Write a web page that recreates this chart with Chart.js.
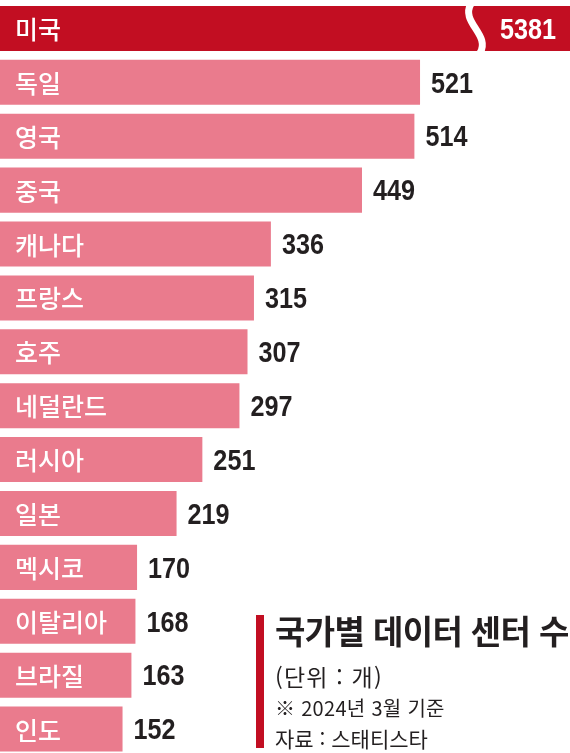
<!DOCTYPE html>
<html lang="ko">
<head>
<meta charset="utf-8">
<script src="https://cdn.jsdelivr.net/npm/chart.js@4.4.1/dist/chart.umd.min.js"></script>
<style>
    html, body { margin: 0; padding: 0; background: #fff; overflow: hidden; }
    #wrap { position: relative; width: 570px; height: 753px; overflow: hidden; }
    #chart { position: absolute; left: 0; top: 0; }
    .bar { position: absolute; left: 256px; top: 615px; width: 8px; height: 133px; background: #c20e22; }
    .ln { position: absolute; left: 275px; color: #231f20; font-family: "Noto Sans CJK KR", sans-serif; white-space: nowrap; }
    .t { top: 612px; font-size: 33px; line-height: 36px; font-weight: 700; letter-spacing: -0.6px; }
    .s { top: 663px; font-size: 23px; line-height: 26px; letter-spacing: 1.2px; }
    .d { top: 696px; font-size: 20px; line-height: 24px; letter-spacing: 0.3px; }
    .r { top: 726px; font-size: 21px; line-height: 24px; }
</style>
</head>
<body>
<div id="wrap">
    <canvas id="chart" width="570" height="756"></canvas>
    <div class="bar"></div>
    <div class="ln t">국가별 데이터 센터 수</div>
    <div class="ln s">(단위 : 개)</div>
    <div class="ln d">※ 2024년 3월 기준</div>
    <div class="ln r">자료 : 스태티스타</div>
</div>
<script>
// 국가별 데이터 센터 수 (2024년 3월)
const countries = ['미국', '독일', '영국', '중국', '캐나다', '프랑스', '호주', '네덜란드', '러시아', '일본', '멕시코', '이탈리아', '브라질', '인도'];
const centers = [5381, 521, 514, 449, 336, 315, 307, 297, 251, 219, 170, 168, 163, 152];

const DARK = '#c20e22', PINK = '#ea7b8d';

// 좁은 굵은 숫자 (condensed 글꼴 대신 가로 축소)
function drawNum(ctx, text, x, y, align) {
    const sx = 0.84;
    ctx.save();
    ctx.font = 'bold 30px "Liberation Sans", Arial, sans-serif';
    ctx.textBaseline = 'middle';
    ctx.textAlign = align;
    ctx.translate(x, y);
    ctx.scale(sx, 1);
    ctx.fillText(text, 0, 0);
    ctx.restore();
}

// 잘린 막대(미국) 물결 표시 + 라벨
const labelsPlugin = {
    id: 'labels',
    afterDatasetsDraw(chart) {
        const ctx = chart.ctx;
        const meta = chart.getDatasetMeta(0);
        const area = chart.chartArea;
        ctx.save();
        meta.data.forEach((bar, i) => {
            const top = bar.y - bar.height / 2, bottom = bar.y + bar.height / 2;
            const clipped = bar.x > area.right;

            if (clipped) {
                ctx.beginPath();
                ctx.moveTo(471, top - 2);
                ctx.bezierCurveTo(460, top + 16, 491, bottom - 16, 480, bottom + 2);
                ctx.strokeStyle = '#fff';
                ctx.lineWidth = 7;
                ctx.stroke();
            }

            ctx.textBaseline = 'middle';
            ctx.fillStyle = '#fff';
            ctx.textAlign = 'left';
            ctx.font = '500 25px "Noto Sans CJK KR", sans-serif';
            ctx.fillText(countries[i], 15, bar.y + 1);

            if (clipped) {
                ctx.fillStyle = '#fff';
                drawNum(ctx, String(centers[i]), area.right - 14, bar.y + 2, 'right');
            } else {
                ctx.fillStyle = '#231f20';
                drawNum(ctx, String(centers[i]), bar.x + 11, bar.y + 2, 'left');
            }
        });
        ctx.restore();
    }
};

new Chart(document.getElementById('chart'), {
    type: 'bar',
    data: {
        labels: countries,
        datasets: [{
            data: centers,
            backgroundColor: centers.map((v, i) => i === 0 ? DARK : PINK),
            borderWidth: 0,
            categoryPercentage: 1,
            barPercentage: 0.835,
            clip: 0
        }]
    },
    options: {
        indexAxis: 'y',
        responsive: false,
        animation: false,
        layout: { padding: { top: 1.5, left: 0, right: 0, bottom: 0 } },
        plugins: { legend: { display: false }, tooltip: { enabled: false } },
        scales: {
            x: { display: false, min: 0, max: 707 },
            y: { display: false }
        }
    },
    plugins: [labelsPlugin]
});
</script>
</body>
</html>
